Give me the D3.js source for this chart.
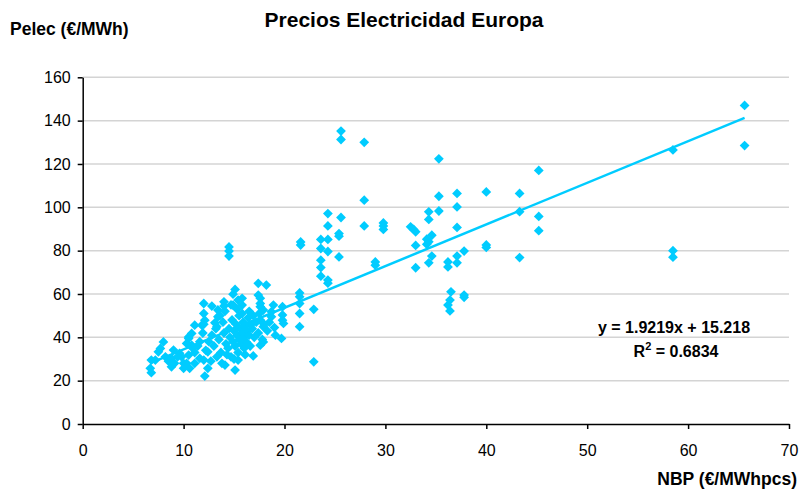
<!DOCTYPE html>
<html>
<head>
<meta charset="utf-8">
<script src="https://cdn.jsdelivr.net/npm/d3@7"></script>
<style>
  body { margin: 0; background: #fff; }
  svg text { font-family: Arial, "Liberation Sans", sans-serif; }
</style>
</head>
<body>
<div class="canvas"></div>
<script>
// data: [NBP, Pelec]
let highRange = [
  [65.6,147],[65.6,128.5],
  [58.5,126.5],[58.5,80],[58.5,77],
  [45.2,117],[45.2,95.8],[45.2,89.2],
  [43.3,106.4],[43.3,98],[43.3,76.8],
  [40.0,107.1],[40.0,82.6],[40.0,81.5],
  [37.8,79.8],[37.8,59.5],[37.8,58.5],
  [37.1,106.4],[37.1,100.2],[37.1,90.7],[37.1,77.5],[37.1,74.4],
  [36.5,61.0],[36.4,57.2],[36.2,54.9],[36.4,52.2],[36.2,74.8],[36.2,72.5],
  [35.3,122.4],[35.3,105.1],[35.3,98.3],
  [34.3,97.9],[34.3,94.4],[34.6,87.1],[34.1,85.3],[34.3,84.1],[34.1,82.9],[34.6,77.5],[34.3,74.4],
  [33.0,88.7],[32.8,89.8],[32.5,91],[33.0,82.4],[33.0,72.1],
  [29.8,92.8],[29.8,91.4],[29.8,89.8],
  [29.0,74.8],[29.0,73.3],
  [27.9,130],[27.9,103.3],[27.9,91.4],
  [25.6,135.2],[25.6,131.3],[25.6,95.3],[25.4,87.9],[25.4,86.7],[25.4,77.1],
  [24.3,97.1],[24.3,91.4],[24.3,85.2],[23.6,85.2],[24.3,79.6],[23.6,81],[23.6,75.6],
  [23.6,72.2],[23.6,68.2],[24.3,66.4],[24.3,65],
  [22.9,52.9],[22.9,28.7],
  [21.6,84],[21.6,82.6],[21.5,60.5],[21.5,58.7],[21.5,55.6],[21.5,51],[21.5,44.9],
  [14.5,81.7],[14.5,79.8],[14.5,77.5]
];

let midRange = [
  [17.4,64.9],[18.2,64.1],[15.1,62.1],[14.9,59.9],[17.4,59.5],
  [17.6,58],[17.6,55.6],[17.6,54.1],[17.9,52.6],[18.9,54.9],[18.7,51.8],[18.7,49.5],
  [19.8,54.1],[19.8,50.3],[19.8,47.9],[19.9,46.4],[17.9,44.9],[19.7,39.5],[17.9,37.9],
  [17.6,36.4],[16.9,31.4],[15.8,58],[15.8,54.9],[15.4,57.2],
  [19.1,41],[19.0,44.5],[18.5,47],[18.0,46],[18.3,43],[17.8,39],[17.5,51],[16.9,50]
];

let lowCluster = [
  [12.0,55.6],[12.8,54.4],[14.0,56.4],[14.0,54.4],[13.4,52.6],[13.4,49.5],[12.0,51],[14.9,54.9],
  [11.8,45.6],[12.1,47.9],[13.1,46.7],[13.3,44.9],[11.1,45.6],[10.8,41.8],[10.5,39.5],
  [12.4,33.3],[12.0,29.5],[11.1,28],[10.6,25.7],[12.4,25.7],[14.1,27.2],[15.1,24.9],[15.4,29.5],[12.1,22.1],
  [8.0,37.9],[7.7,34.9],[7.5,33.3],[6.7,25.7],[6.8,23.7],[6.8,29.5],[7.2,29.5],[8.2,31],
  [9.0,34.1],[8.8,30.3],[9.6,32.6],[10.3,37.2],[10.5,40.2],[10.0,28],[10.0,25.7],[8.8,26.4],
  [9.8,31],[10.8,36.4],[11.6,30.3],[10.5,31.8],[10.3,28],
  [12.5,38],[12.8,41],[13.0,36],[13.2,44],[13.5,39],[13.7,33],[13.9,47],[14.0,42],[14.2,37],
  [14.4,35],[14.5,44],[14.6,40],[14.7,31],[14.8,48],[14.9,38],[15.0,43],[15.1,36],[15.2,46],
  [15.3,41],[15.4,33],[15.5,50],[15.5,39],[15.6,44],[15.7,37],[15.8,42],[15.9,47],[16.0,35],
  [16.0,40],[16.1,45],[16.2,38],[16.3,43],[16.4,49],[16.5,41],[16.6,36],[16.7,46],[16.8,44],
  [17.0,40],[17.2,47],[17.4,42],[17.6,48],[11.6,38],[11.9,42],[12.2,34],[12.0,46],[11.4,36],
  [11.1,33],[10.9,35],[9.4,31],[9.1,28],[8.5,29],[12.7,29],[13.3,31],[13.8,28],
  [14.3,32],[15.0,30],[16.1,32],[13.6,50],[14.1,52],[14.7,55],[15.3,53],[15.8,51],[16.5,52]
];

let trendSlope = 1.9219;
let trendIntercept = 15.218;
let trendR2 = 0.6834;

let xTicks = [0, 10, 20, 30, 40, 50, 60, 70];
let yTicks = [0, 20, 40, 60, 80, 100, 120, 140, 160];

let blue = '#00ccff';

let svg = d3.select(".canvas").append("svg").attr("width", 799).attr("height", 493);

let x = d3.scaleLinear().domain([0, 70]).range([82.7, 789]);
let y = d3.scaleLinear().domain([0, 160]).range([424, 77.3]);

// gridlines
svg.selectAll('.grid')
  .data(yTicks.filter(d => d > 0))
  .enter().append('line')
  .attr('x1', x(0)).attr('x2', x(70))
  .attr('y1', d => y(d)).attr('y2', d => y(d))
  .attr('stroke', '#d4d4d4')
  .attr('stroke-width', 1.5);

// axes
let yAxis = svg.append('g')
  .attr('transform', 'translate(' + x(0) + ',0)')
  .call(d3.axisLeft(y).tickValues(yTicks).tickSize(5).tickSizeOuter(0).tickPadding(7));

let xAxis = svg.append('g')
  .attr('transform', 'translate(0,' + y(0) + ')')
  .call(d3.axisBottom(x).tickValues(xTicks).tickSize(5).tickSizeOuter(0).tickPadding(16));

[xAxis, yAxis].forEach(a => {
  a.selectAll('text').attr('font-size', 16).attr('fill', '#000')
    .attr('font-family', 'Arial, "Liberation Sans", sans-serif');
  a.selectAll('line').attr('stroke', '#000').attr('stroke-width', 1.5);
  a.select('.domain').attr('stroke', '#000').attr('stroke-width', 1.5);
});

// points
let allPoints = lowCluster.concat(midRange, highRange);
let diamond = d3.symbol().type(d3.symbolSquare).size(48);

svg.selectAll('.pt')
  .data(allPoints)
  .enter().append('path')
  .attr('d', diamond)
  .attr('transform', d => 'translate(' + x(d[0]) + ',' + y(d[1]) + ') rotate(45)')
  .attr('fill', blue);

// trend line
let xs = allPoints.map(d => d[0]);
let tx = [d3.min(xs), d3.max(xs)];
svg.append('line')
  .attr('x1', x(tx[0])).attr('y1', y(trendSlope * tx[0] + trendIntercept))
  .attr('x2', x(tx[1])).attr('y2', y(trendSlope * tx[1] + trendIntercept))
  .attr('stroke', blue)
  .attr('stroke-width', 2.5);

// texts
svg.append('text')
  .text('Precios Electricidad Europa')
  .attr('x', 404).attr('y', 27)
  .attr('text-anchor', 'middle')
  .attr('font-size', 21).attr('font-weight', 'bold');

svg.append('text')
  .text('Pelec (€/MWh)')
  .attr('x', 10).attr('y', 35)
  .attr('font-size', 17.5).attr('font-weight', 'bold');

svg.append('text')
  .text('NBP (€/MWhpcs)')
  .attr('x', 797).attr('y', 485)
  .attr('text-anchor', 'end')
  .attr('font-size', 17.5).attr('font-weight', 'bold');

svg.append('text')
  .text('y = ' + trendSlope + 'x + ' + trendIntercept)
  .attr('x', 674).attr('y', 333)
  .attr('text-anchor', 'middle')
  .attr('font-size', 16).attr('font-weight', 'bold');

let r2 = svg.append('text')
  .attr('x', 676).attr('y', 357)
  .attr('text-anchor', 'middle')
  .attr('font-size', 16).attr('font-weight', 'bold');
r2.append('tspan').text('R');
r2.append('tspan').text('2').attr('font-size', 11).attr('dy', -7);
r2.append('tspan').text(' = ' + trendR2).attr('dy', 7);
</script>
</body>
</html>
